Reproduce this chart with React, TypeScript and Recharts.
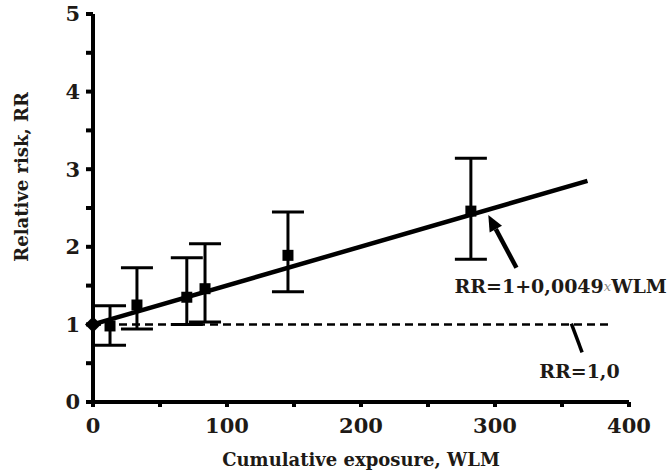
import React from "react";
import {
  ComposedChart,
  Scatter,
  XAxis,
  YAxis,
  ZAxis,
  ErrorBar,
  ReferenceLine,
  ReferenceDot,
} from "recharts";

// observed points (WLM, relative risk, 95% CI)
const exposure = [12.7, 32.8, 70, 83.6, 145.5, 282];
const rr = [0.98, 1.25, 1.35, 1.46, 1.89, 2.46];
const ciLow = [0.73, 0.94, 1.0, 1.03, 1.42, 1.84];
const ciHigh = [1.24, 1.73, 1.86, 2.04, 2.45, 3.14];

// reference point at zero exposure
const baseX = [0];
const baseY = [1.0];

// fitted line RR = 1 + 0.0049 * WLM, ends
const fitX = [0, 369];
const fitY = [1.0, 2.85];

const xTicks = [0, 50, 100, 150, 200, 250, 300, 350, 400];
const yTicks = [0, 0.5, 1, 1.5, 2, 2.5, 3, 3.5, 4, 4.5, 5];

const points = exposure.map((x, i) => ({
  x,
  y: rr[i],
  err: [rr[i] - ciLow[i], ciHigh[i] - rr[i]],
}));
const basePoints = baseX.map((x, i) => ({ x, y: baseY[i] }));
const fitPoints = fitX.map((x, i) => ({ x, y: fitY[i] }));

const font = "DejaVu Serif";
const ink = "#1e1a16";
const tickStyle = { fontFamily: font, fontSize: 21, fontWeight: 700, fill: ink };
const labelStyle = { fontFamily: font, fontSize: 18, fontWeight: 700, fill: ink };

const Square = (p: any) => (
  <rect x={p.cx - 5.5} y={p.cy - 5.5} width={11} height={11} fill="#000" />
);

const Diamond = (p: any) => (
  <polygon
    points={`${p.cx},${p.cy - 8} ${p.cx + 8},${p.cy} ${p.cx},${p.cy + 8} ${p.cx - 8},${p.cy}`}
    fill="#000"
  />
);

const Arrow = (p: any) => {
  const { x1, y1, x2, y2 } = p;
  const dx = x2 - x1;
  const dy = y2 - y1;
  const len = Math.sqrt(dx * dx + dy * dy) || 1;
  const ux = dx / len;
  const uy = dy / len;
  const hl = 16;
  const hw = 7;
  const bx = x2 - ux * hl;
  const by = y2 - uy * hl;
  return (
    <g>
      <line x1={x1} y1={y1} x2={bx} y2={by} stroke="#000" strokeWidth={4.5} />
      <polygon
        points={`${x2},${y2} ${bx - uy * hw},${by + ux * hw} ${bx + uy * hw},${by - ux * hw}`}
        fill="#000"
      />
    </g>
  );
};

const FitLabel = (p: any) => (
  <text x={p.cx} y={p.cy} textAnchor="middle" dominantBaseline="central" fontFamily={font} fontSize={19} fontWeight={700} fill={ink}>
    RR=1+0,0049
    <tspan fontSize={13} fontStyle="italic" fontWeight={400} fill="#888">x</tspan>
    WLM
  </text>
);

const BaseLabel = (p: any) => (
  <text x={p.cx} y={p.cy} textAnchor="middle" dominantBaseline="central" fontFamily={font} fontSize={19} fontWeight={700} fill={ink}>
    RR=1,0
  </text>
);

const YTitle = (props: any) => {
  const vb = props.viewBox;
  const cx = vb.x + 22;
  const cy = vb.y + vb.height * 0.42;
  return (
    <text
      x={cx}
      y={cy}
      transform={`rotate(-90, ${cx}, ${cy})`}
      textAnchor="middle"
      dominantBaseline="central"
      {...labelStyle}
    >
      Relative risk,  RR
    </text>
  );
};

export default function App() {
  return (
    <div style={{ position: "absolute", left: 0, top: 0, background: "#fff" }}>
      <ComposedChart
        width={672}
        height={474}
        margin={{ top: 14, right: 43, bottom: 0, left: 0 }}
      >
        <XAxis
          type="number"
          dataKey="x"
          domain={[0, 400]}
          ticks={xTicks}
          interval={0}
          tickFormatter={(v: number) => (v % 100 === 0 ? String(v) : "")}
          height={72}
          axisLine={{ stroke: "#000", strokeWidth: 4 }}
          tickLine={{ stroke: "#000", strokeWidth: 4 }}
          tickSize={5}
          tickMargin={11}
          tick={tickStyle}
          label={{
            value: "Cumulative exposure,  WLM",
            position: "insideBottom",
            offset: 8,
            style: labelStyle,
          }}
        />
        <YAxis
          type="number"
          dataKey="y"
          domain={[0, 5]}
          ticks={yTicks}
          interval={0}
          tickFormatter={(v: number) => (Number.isInteger(v) ? String(v) : "")}
          width={93}
          axisLine={{ stroke: "#000", strokeWidth: 4 }}
          tickLine={{ stroke: "#000", strokeWidth: 4 }}
          tickSize={7}
          tickMargin={6}
          tick={tickStyle}
          label={{ content: YTitle }}
        />
        <ZAxis range={[100, 100]} />

        <ReferenceLine
          segment={[
            { x: 0, y: 1 },
            { x: 388, y: 1 },
          ]}
          stroke="#000"
          strokeWidth={2.5}
          strokeDasharray="8 5"
        />

        <Scatter
          data={fitPoints}
          line={{ stroke: "#000", strokeWidth: 4.5 }}
          shape={() => <g />}
          isAnimationActive={false}
        />

        <Scatter data={points} shape={Square} isAnimationActive={false}>
          <ErrorBar
            dataKey="err"
            direction="y"
            width={16}
            stroke="#000"
            strokeWidth={3}
            isAnimationActive={false}
          />
        </Scatter>

        <Scatter data={basePoints} shape={Diamond} isAnimationActive={false} />

        <ReferenceLine
          segment={[
            { x: 316, y: 1.73 },
            { x: 295, y: 2.41 },
          ]}
          shape={Arrow}
        />
        <ReferenceLine
          segment={[
            { x: 357, y: 1.01 },
            { x: 365, y: 0.64 },
          ]}
          stroke="#000"
          strokeWidth={3.5}
        />

        <ReferenceDot x={349} y={1.49} shape={FitLabel} />
        <ReferenceDot x={363} y={0.4} shape={BaseLabel} />
      </ComposedChart>
    </div>
  );
}
